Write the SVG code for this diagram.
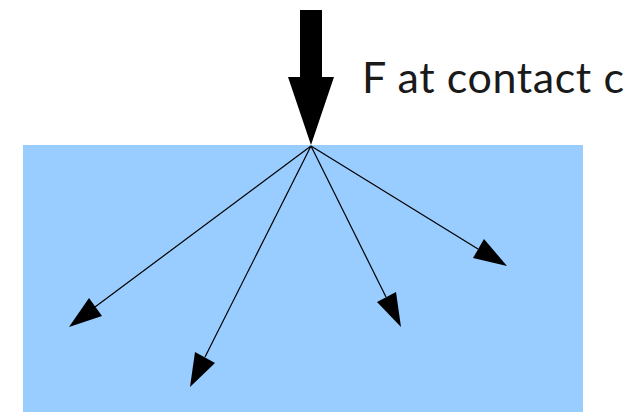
<svg xmlns="http://www.w3.org/2000/svg" width="643" height="412" viewBox="0 0 643 412">
<style>
.ln{stroke:#000;stroke-width:1.2;fill:none}
.hd{fill:#000}
.lbl{font-family:Lato,"Open Sans",sans-serif;font-size:43px;fill:#1a1a1a}
</style>
<g id="body"><rect x="23" y="145" width="560" height="267" fill="#99ccff"/></g>
<g id="force">
<polygon class="hd" points="300,10 322,10 322,77 334,77 311,145 288,77 300,77"/>
<text class="lbl" x="362" y="93" textLength="262" lengthAdjust="spacing">F at contact c</text>
</g>
<g id="connectors">
<line class="ln" x1="311" y1="146" x2="95" y2="307"/>
<polygon class="hd" points="69,327 89,298 102,316"/>
<line class="ln" x1="311" y1="146" x2="205" y2="357"/>
<polygon class="hd" points="190,387 195,352 215,363"/>
<line class="ln" x1="311" y1="146" x2="386" y2="297"/>
<polygon class="hd" points="401,327 377,302 396,292"/>
<line class="ln" x1="311" y1="146" x2="478" y2="249"/>
<polygon class="hd" points="507,266 473,258 484,239"/>
</g>
</svg>
